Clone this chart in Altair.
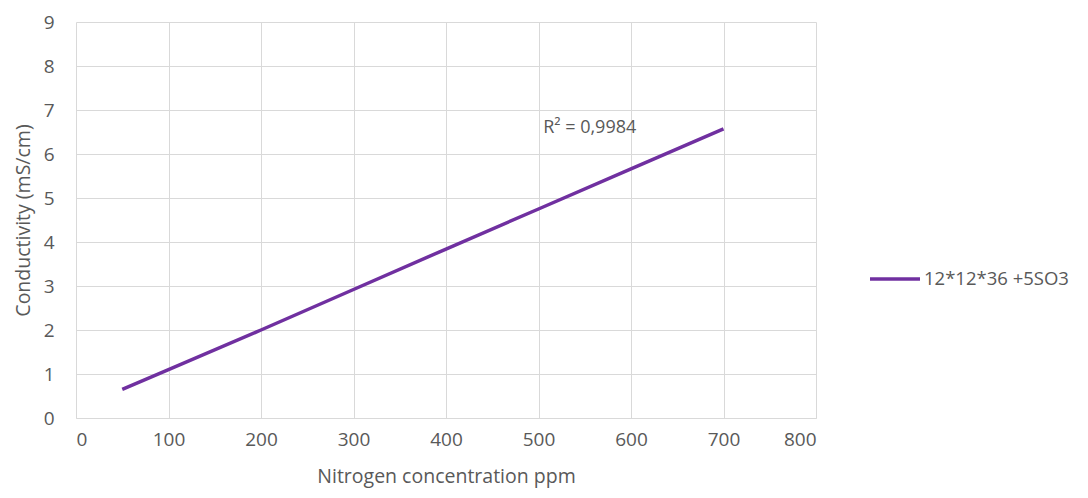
import altair as alt
import pandas as pd

nitrogen = [50, 100, 200, 300, 400, 500, 600, 700]
conductivity = [0.65, 1.1, 2.0, 2.92, 3.84, 4.75, 5.66, 6.57]
series_name = "12*12*36 +5SO3"
r2_label = ["R² = 0,9984"]
r2_x = [505]
r2_y = [6.6]

df = pd.DataFrame({"x": nitrogen, "y": conductivity, "s": [series_name] * len(nitrogen)})
ann = pd.DataFrame({"x": r2_x, "y": r2_y, "t": r2_label})

FONT = "Open Sans"
GRAY = "#595959"

xs = alt.Scale(domain=[0, 800], nice=False)
ys = alt.Scale(domain=[0, 9], nice=False)

line = alt.Chart(df).mark_line(strokeWidth=3.5).encode(
    x=alt.X("x:Q", scale=xs, title="Nitrogen concentration ppm",
            axis=alt.Axis(values=list(range(0, 801, 100)), grid=True, ticks=False,
                          domain=True, domainColor="#d9d9d9", labelPadding=12,
                          titlePadding=18)),
    y=alt.Y("y:Q", scale=ys, title="Conductivity (mS/cm)",
            axis=alt.Axis(values=list(range(0, 10)), grid=True, ticks=False,
                          domain=False, labelPadding=22, titlePadding=10)),
    color=alt.Color("s:N", scale=alt.Scale(domain=[series_name], range=["#7030A0"]),
                    legend=alt.Legend(title=None, orient="none", legendX=792, legendY=230,
                                      symbolType="stroke", symbolSize=2500,
                                      symbolStrokeWidth=3.5, labelFontSize=18.5,
                                      labelColor=GRAY, labelFont=FONT, labelOffset=2)),
)

text = alt.Chart(ann).mark_text(align="left", baseline="middle", fontSize=18,
                                 font=FONT, color=GRAY).encode(
    x=alt.X("x:Q", scale=xs), y=alt.Y("y:Q", scale=ys), text="t:N")

chart = (line + text).properties(
    width=740, height=396,
    padding={"left": 68, "top": 14, "right": 264, "bottom": 72},
    autosize="none",
).configure_view(stroke=None).configure_axis(
    gridColor="#d9d9d9", labelFont=FONT, titleFont=FONT, labelColor=GRAY,
    titleColor=GRAY, labelFontSize=19, titleFontSize=19.5, titleFontWeight="normal",
)

chart.save("out.html", embed_options={"renderer": "svg", "actions": False})
